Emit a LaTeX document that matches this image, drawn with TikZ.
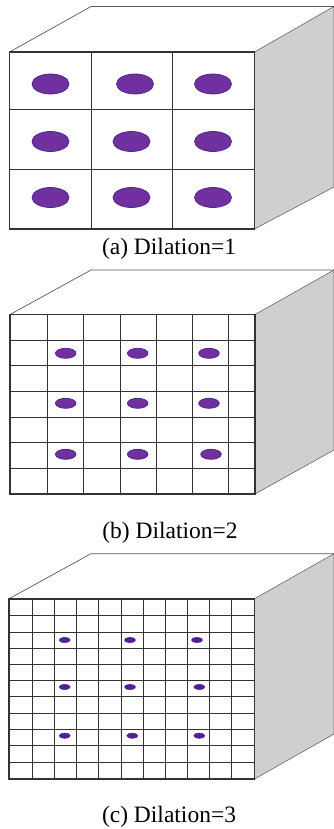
\documentclass[tikz,border=0pt]{standalone}
\usepackage{fontspec}
\setmainfont{Liberation Serif}
\definecolor{dot}{HTML}{7030A0}
\definecolor{dotedge}{HTML}{4F2A8C}
\definecolor{dotsmall}{HTML}{521F96}
\definecolor{sidegrey}{HTML}{CFCFCF}
\definecolor{frameline}{HTML}{333333}
\tikzset{
  topedge/.style={draw=black!65,line width=0.7pt},
  sideface/.style={fill=sidegrey,draw=black!60,line width=0.6pt},
  gridline/.style={draw=black!80,line width=1pt},
  frontface/.style={draw=frameline,line width=1.6pt,fill=white},
  blob/.style={fill=dot,draw=dotedge,line width=0.8pt},
  smallblob/.style={fill=dotsmall,draw=dotsmall,line width=0.5pt},
  captiontext/.style={inner sep=0pt,font=\fontsize{23.5}{28}\selectfont}
}
% #1 left, #2 top of front, #3 right, #4 bottom of front, #5 back top, #6 right-bottom at far edge
\newcommand{\boxshape}[6]{%
  \path[sideface] (#3,#2) -- (334,#5) -- (334,#6) -- (#3,#4) -- cycle;
  \draw[topedge] (#1,#2) -- (91,#5) -- (334,#5);
  \draw[frontface] (#1,#2) rectangle (#3,#4);
}
\begin{document}
\begin{tikzpicture}[x=1pt,y=-1pt]
\useasboundingbox (0,0) rectangle (334,829);
\fill[white] (0,0) rectangle (334,829);
% panel a
\boxshape{9.5}{52}{254.5}{229}{6.5}{187}
\foreach \x in {91.5,172.5} \draw[gridline] (\x,52) -- (\x,229);
\foreach \y in {110,169.5} \draw[gridline] (9.5,\y) -- (254.5,\y);
\foreach \x/\y in {50.5/84,135/84,213/84,50.5/141.5,131.5/141.5,213/141.5,50.5/197.5,131.5/197.5,213/197.5}
  \path[blob] (\x,\y) ellipse (18.5 and 10);
\node[captiontext] (capa) at (169,249) {(a) Dilation=1};
% panel b
\boxshape{10}{314.5}{255}{494}{270}{450}
\foreach \x in {47.5,83.7,120,156.3,192.3,228.7} \draw[gridline] (\x,314.5) -- (\x,494);
\foreach \y in {340.3,365.3,391,417.3,442.7,468.3} \draw[gridline] (10,\y) -- (255,\y);
\foreach \x/\y in {65.7/353.3,137.7/353.3,209/353.3,65.7/403.3,137.7/403.3,209/403.3,65.7/454.3,137.7/454.3,211/454.3}
  \path[blob] (\x,\y) ellipse (10.3 and 5);
\node[captiontext] (capb) at (170,533) {(b) Dilation=2};
% panel c
\boxshape{9}{598.7}{254.5}{779}{553.7}{734}
\foreach \x in {32.3,54.7,76.7,98.7,121,143.3,165.7,187.3,209.7,231.7} \draw[gridline] (\x,598.7) -- (\x,779);
\foreach \y in {615.7,632.3,648,664.3,680.3,696.7,713.3,729.3,745.3,762} \draw[gridline] (9,\y) -- (254.5,\y);
\foreach \x/\y in {64.7/640,130/640,197/640,64.7/687,130/687,199.3/687,64.7/735.7,132.3/735.7,199.3/735.7}
  \path[smallblob] (\x,\y) ellipse (5.5 and 2.7);
\node[captiontext] (capc) at (169,817) {(c) Dilation=3};
\end{tikzpicture}
\end{document}
